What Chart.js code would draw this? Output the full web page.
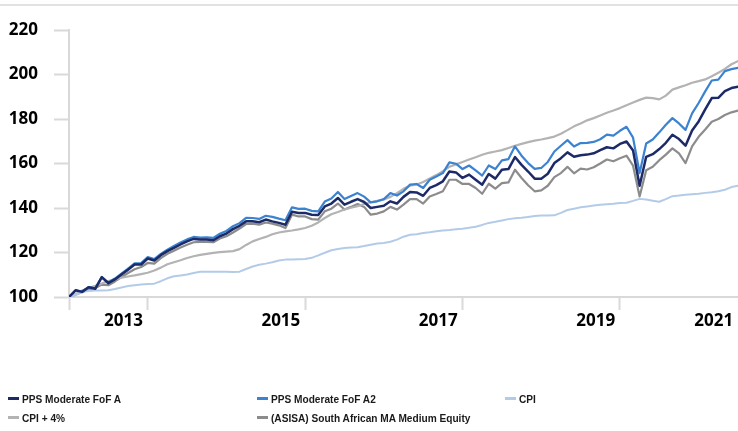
<!DOCTYPE html>
<html><head><meta charset="utf-8">
<script src="https://cdn.jsdelivr.net/npm/chart.js@4.4.1/dist/chart.umd.min.js"></script>
<style>
html,body{margin:0;padding:0;background:#fff;}
#wrap{position:relative;width:738px;height:431px;overflow:hidden;background:#fff;}
#topline{position:absolute;left:0;top:4px;width:738px;height:2px;background:#e2e2e2;}
canvas{position:absolute;left:0;top:0;}
.lg{position:absolute;white-space:nowrap;line-height:14px;height:14px;}
.lg i{display:inline-block;width:11px;height:2.5px;vertical-align:middle;margin-right:3px;position:relative;top:-1px;}
.lg span{display:inline-block;font:bold 11.5px "Liberation Sans",Arial,sans-serif;color:#1a1a1a;transform:scaleX(0.88);transform-origin:0 50%;}
</style></head>
<body><div id="wrap"><canvas id="c" width="738" height="431"></canvas><div id="topline"></div><div id="legend"></div></div>
<script>
const seriesNames = ['PPS Moderate FoF A','PPS Moderate FoF A2','CPI','CPI + 4%','(ASISA) South African MA Medium Equity'];
const seriesColors = ['#1c2b68','#3b82d0','#b4cbe8','#b3b3b3','#8c8c8c'];
const yearLabels = ['2013','2015','2017','2019','2021'];

const fofA = [100, 103, 102.3, 104.4, 103.7, 108.9, 106.2, 107.9, 110.1, 112.3,
 114.6, 114.6, 117.3, 116.4, 118.8, 120.6, 122.1, 123.6, 125, 126.1,
 125.8, 125.8, 125.5, 127.3, 128.5, 130.5, 132, 134, 134, 133.6,
 134.8, 134, 133.3, 132.5, 138.3, 137.8, 137.8, 137, 136.8, 140.7,
 142, 144.5, 141.5, 142.8, 144, 142.7, 140, 140.5, 141, 143,
 142, 145, 147.2, 147, 145.5, 149, 150.3, 152, 156.4, 156,
 153.5, 155, 152.7, 150.5, 155.3, 153.2, 157.2, 157.5, 162.9, 159.4,
 156.4, 153.2, 153.2, 155.4, 160.2, 162.4, 165, 163, 163.7, 164,
 164.6, 166, 167.3, 166.8, 168.8, 169.9, 165.8, 150, 163, 164.2,
 166.5, 169.3, 172.9, 171, 168, 174.8, 178.9, 184.3, 189.4, 189.5,
 192.5, 193.9, 194.5];

const fofA2 = [100, 103, 102.4, 104.5, 103.9, 109, 106.5, 108.3, 110.5, 112.8,
 115.1, 115.2, 117.9, 117, 119.4, 121.3, 122.9, 124.5, 125.9, 127,
 126.7, 126.8, 126.6, 128.4, 129.7, 131.8, 133.2, 135.6, 135.5, 135.1,
 136.5, 136, 135.2, 134.5, 140.3, 139.6, 139.7, 138.7, 138.5, 142.9,
 144.3, 147.2, 144, 145.4, 146.7, 145.1, 142.5, 143, 144, 146.7,
 145.6, 147.5, 150.5, 150.8, 149, 152.7, 154.2, 155.7, 160.5, 159.9,
 157.5, 159.1, 156.9, 154.6, 159.1, 157.5, 161.4, 162, 167.7, 163.5,
 160.2, 157.6, 158, 160.7, 165.4, 168, 170.5, 167.6, 169.2, 169.3,
 169.7, 170.9, 173, 172.5, 174.7, 176.5, 171.6, 155.7, 169, 170.8,
 174, 177.4, 180.4, 178, 175.1, 182.5, 187.2, 192.4, 197.3, 197.7,
 201.5, 202.4, 203];

const cpi = [100, 101, 102.3, 102.7, 102.9, 102.9, 103, 103.6, 104.3, 104.9,
 105.3, 105.6, 105.8, 106, 107.1, 108.4, 109.3, 109.7, 110.1, 110.8,
 111.3, 111.4, 111.4, 111.4, 111.3, 111.2, 111.4, 112.6, 113.7, 114.5,
 115, 115.6, 116.4, 116.8, 116.9, 117, 117.1, 117.6, 118.7, 119.9,
 121, 121.6, 122, 122.2, 122.4, 122.9, 123.5, 124, 124.3, 124.8,
 125.8, 127.1, 128, 128.2, 128.8, 129.1, 129.5, 129.9, 130.1, 130.4,
 130.7, 131.1, 131.6, 132.4, 133.3, 133.8, 134.4, 135, 135.4, 135.6,
 136, 136.4, 136.6, 136.6, 136.7, 137.8, 139.1, 139.7, 140.3, 140.7,
 141.1, 141.5, 141.7, 141.9, 142.2, 142.4, 143.2, 144.1, 143.8, 143.3,
 142.8, 144, 145.3, 145.6, 146, 146.2, 146.4, 146.8, 147.1, 147.5,
 148.2, 149.4, 150];

const cpiPlus4 = [100, 101.3, 102.9, 104, 105, 106.1, 107.2, 107.9, 108.7, 109.2,
 109.7, 110.3, 110.9, 111.9, 113.2, 114.7, 115.6, 116.5, 117.5, 118.3,
 118.9, 119.4, 119.8, 120.2, 120.4, 120.6, 121.5, 123.4, 125, 126.1,
 127, 128.2, 129, 129.5, 129.9, 130.4, 131, 132, 133.5, 135.5,
 137.2, 138.2, 139.3, 140.1, 140.8, 141.8, 142.6, 143.2, 143.8, 145,
 146.7, 148.6, 150, 150.6, 151.7, 153.3, 154.8, 156.6, 158.5, 159.6,
 160.7, 161.8, 162.8, 163.9, 164.8, 165.4, 166, 167, 168, 168.8,
 169.6, 170.3, 170.8, 171.4, 172.1, 173.4, 175, 176.7, 178, 179.4,
 180.4, 181.6, 182.8, 183.8, 184.9, 186.2, 187.4, 188.6, 189.6, 189.4,
 188.8, 190.5, 193.2, 194.2, 195.2, 196.3, 197, 197.8, 199.2, 200.8,
 202.5, 204.6, 206];

const asisa = [100, 101, 102.3, 103.3, 104, 105.6, 105.3, 107, 109, 110.8,
 112.5, 113.5, 115.3, 115, 117.5, 119.4, 120.8, 122.2, 123.5, 124.6,
 124.8, 124.8, 124.6, 126.3, 127.3, 129, 130.8, 132.8, 133, 132.5,
 133.5, 133, 132.2, 131, 137, 136.2, 136.2, 135, 134.8, 138.5,
 139.7, 142, 139.3, 140.5, 141.8, 140.5, 137, 137.5, 138.5, 140.5,
 139.3, 141.5, 144, 144, 142, 145.2, 146.3, 147.5, 152.7, 152.7,
 150.8, 150.8, 149, 146.4, 150.9, 148.7, 151.2, 151.5, 157.2, 153.5,
 150.2, 147.5, 147.9, 150, 153.9, 155.7, 158.5, 155.6, 157.7, 157.3,
 158.3, 160, 161.8, 161, 162.4, 163.5, 159, 145.2, 157, 158.5,
 161.5, 164, 166.8, 164.5, 160.2, 167.7, 172, 175.3, 178.8, 180,
 181.8, 183, 183.8];

const allSeries = [fofA, fofA2, cpi, cpiPlus4, asisa];
const lineWidths = [2.5, 2.2, 2, 2.2, 2.2];
const N = fofA.length;

// axis layout helpers (month index positions)
const markPos = [0, 12, 36, 60, 84];
const labelPos = [8.3, 32.3, 56.3, 80.3, 98.3];
const tickPositions = markPos.concat(labelPos).sort((a,b)=>a-b);

const tickFont = {family:'"Open Sans", "Noto Sans", sans-serif', weight:'bold', size:17};

new Chart(document.getElementById('c'), {
  type:'line',
  data:{
    datasets: allSeries.map((s, k) => ({
      label: seriesNames[k],
      data: s.map((v, i) => ({x:i, y:v})),
      borderColor: seriesColors[k],
      borderWidth: lineWidths[k],
      pointRadius: 0,
      tension: 0,
      fill: false
    }))
  },
  options:{
    responsive:false,
    animation:false,
    devicePixelRatio:1,
    layout:{padding:{top:30, left:8, right:0, bottom:100}},
    plugins:{legend:{display:false}, tooltip:{enabled:false}},
    elements:{line:{borderJoinStyle:'round', borderCapStyle:'round'}},
    scales:{
      x:{
        type:'linear', min:0, max:N-1,
        afterBuildTicks: s => { s.ticks = tickPositions.map(v => ({value:v})); },
        afterFit: s => { s.height = 34; },
        grid:{
          drawOnChartArea:false, drawTicks:true, tickLength:13, tickWidth:2,
          tickColor: ctx => (ctx.tick && markPos.includes(ctx.tick.value)) ? '#d9d9d9' : 'rgba(0,0,0,0)'
        },
        border:{color:'#d9d9d9', width:2},
        ticks:{
          autoSkip:false, maxRotation:0, minRotation:0, padding:1, color:'#000', font:tickFont,
          callback: v => { const j = labelPos.indexOf(v); return j >= 0 ? yearLabels[j] : ''; }
        }
      },
      y:{
        min:100, max:220,
        afterFit: s => { s.width = 61; },
        ticks:{stepSize:20, padding:16, color:'#000', font:tickFont},
        grid:{drawOnChartArea:false, drawTicks:true, tickLength:15, tickWidth:2, tickColor:'#d9d9d9'},
        border:{color:'#d9d9d9', width:2}
      }
    }
  }
});

// legend
const legendPos = [[8,391],[257,391],[505,391],[8,410],[257,410]];
const lg = document.getElementById('legend');
seriesNames.forEach((n, k) => {
  const d = document.createElement('div');
  d.className = 'lg';
  d.style.left = legendPos[k][0] + 'px';
  d.style.top = legendPos[k][1] + 'px';
  const m = document.createElement('i');
  m.style.background = seriesColors[k];
  d.appendChild(m);
  const t = document.createElement('span');
  t.textContent = n;
  d.appendChild(t);
  lg.appendChild(d);
});
</script>
</body></html>
